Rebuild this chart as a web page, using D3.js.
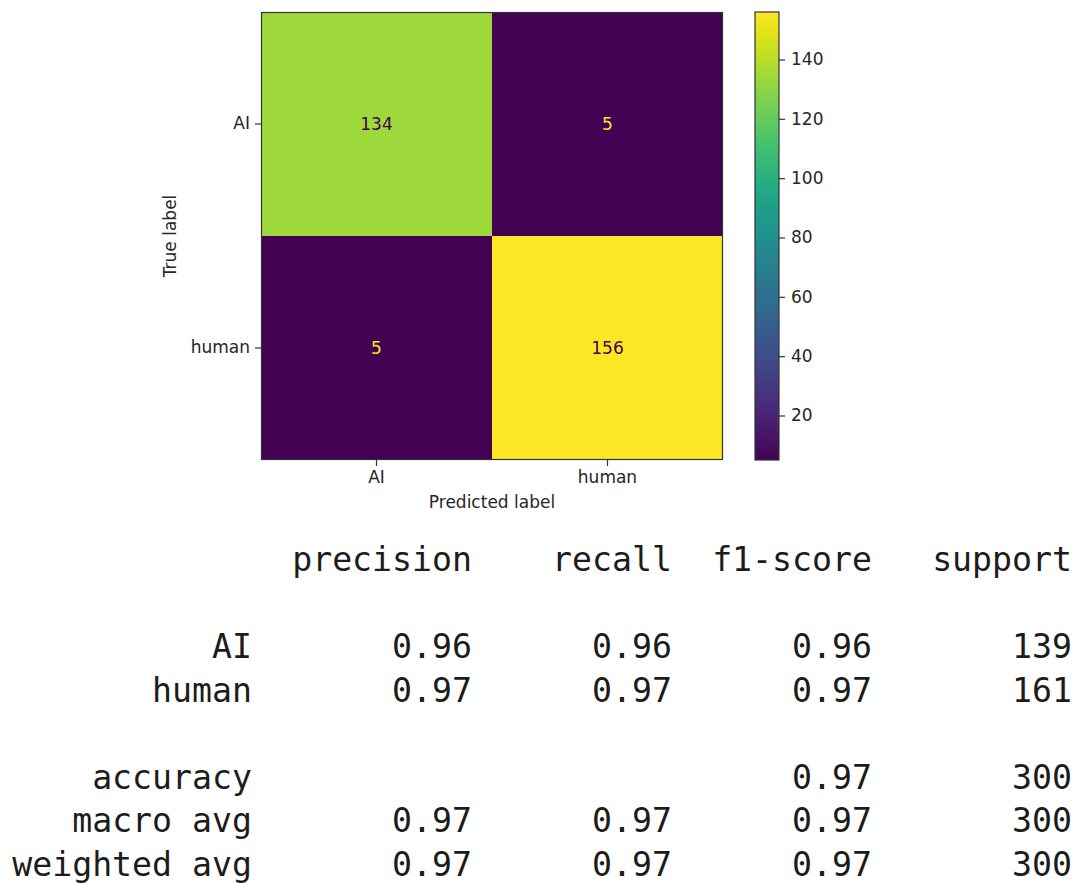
<!DOCTYPE html>
<html>
<head>
<meta charset="utf-8">
<script src="https://cdn.jsdelivr.net/npm/d3@7"></script>
<style>
  html, body { margin: 0; padding: 0; background: #ffffff; }
  svg { display: block; }
</style>
</head>
<body>
<svg id="chart" width="1080" height="883"></svg>
<script>
// Confusion matrix: rows = true label, columns = predicted label
const labels = ["AI", "human"];
const matrix = [
  [134, 5],
  [5, 156]
];
const colorbarTicks = [20, 40, 60, 80, 100, 120, 140];

// Classification report
const reportHeader = ["precision", "recall", "f1-score", "support"];
const classNames = ["AI", "human"];
const precision = [0.96, 0.97];
const recall = [0.96, 0.97];
const f1 = [0.96, 0.97];
const support = [139, 161];
const accuracy = 0.97;
const totalSupport = 300;
const macroAvg = [0.97, 0.97, 0.97];
const weightedAvg = [0.97, 0.97, 0.97];

const svg = d3.select("#chart");
const chartFont = "'DejaVu Sans', sans-serif";
const monoFont = "'DejaVu Sans Mono', monospace";
const inkColor = "#262626";
const chartFontSize = 17;

// ---- heatmap ----
const hm = { left: 261, right: 723, top: 12, bottom: 460 };
const x = d3.scaleBand().domain(labels).range([hm.left, hm.right]);
const y = d3.scaleBand().domain(labels).range([hm.top, hm.bottom]);
const flat = matrix.flatMap((row, i) => row.map((v, j) => ({ t: labels[i], p: labels[j], v })));
const vmin = d3.min(flat, d => d.v), vmax = d3.max(flat, d => d.v);
const color = d3.scaleSequential(d3.interpolateViridis).domain([vmin, vmax]);
const thresh = (vmin + vmax) / 2;

svg.append("g").selectAll("rect").data(flat).join("rect")
  .attr("x", d => x(d.p)).attr("y", d => y(d.t))
  .attr("width", x.bandwidth()).attr("height", y.bandwidth())
  .attr("fill", d => color(d.v));

svg.append("g").selectAll("text").data(flat).join("text")
  .attr("x", d => x(d.p) + x.bandwidth() / 2)
  .attr("y", d => y(d.t) + y.bandwidth() / 2)
  .attr("text-anchor", "middle").attr("dominant-baseline", "central")
  .attr("font-family", chartFont).attr("font-size", chartFontSize)
  .attr("fill", d => d.v < thresh ? color(vmax) : color(vmin))
  .text(d => d.v);

svg.append("rect")
  .attr("x", hm.left + 0.5).attr("y", hm.top + 0.5)
  .attr("width", hm.right - hm.left - 1).attr("height", hm.bottom - hm.top - 1)
  .attr("fill", "none").attr("stroke", "#333").attr("stroke-width", 1.2);

const xAxis = svg.append("g").attr("transform", `translate(0,${hm.bottom})`)
  .call(d3.axisBottom(x).tickSize(6).tickPadding(5));
const yAxis = svg.append("g").attr("transform", `translate(${hm.left},0)`)
  .call(d3.axisLeft(y).tickSize(6).tickPadding(5));
[xAxis, yAxis].forEach(a => {
  a.select(".domain").remove();
  a.selectAll("line").attr("stroke", "#333").attr("stroke-width", 1.2);
  a.selectAll("text").attr("font-family", chartFont).attr("font-size", chartFontSize).attr("fill", inkColor);
});

svg.append("text")
  .attr("x", (hm.left + hm.right) / 2).attr("y", 508)
  .attr("text-anchor", "middle")
  .attr("font-family", chartFont).attr("font-size", chartFontSize).attr("fill", inkColor)
  .text("Predicted label");

svg.append("text")
  .attr("transform", `translate(176,${(hm.top + hm.bottom) / 2}) rotate(-90)`)
  .attr("text-anchor", "middle")
  .attr("font-family", chartFont).attr("font-size", chartFontSize).attr("fill", inkColor)
  .text("True label");

// ---- colorbar ----
const cb = { left: 755, right: 779 };
const cbScale = d3.scaleLinear().domain([vmin, vmax]).range([hm.bottom, hm.top]);
const grad = svg.append("defs").append("linearGradient")
  .attr("id", "viridisGrad").attr("x1", 0).attr("y1", 1).attr("x2", 0).attr("y2", 0);
d3.range(0, 1.0001, 0.05).forEach(t => {
  grad.append("stop").attr("offset", t).attr("stop-color", d3.interpolateViridis(t));
});
svg.append("rect")
  .attr("x", cb.left).attr("y", hm.top)
  .attr("width", cb.right - cb.left).attr("height", hm.bottom - hm.top)
  .attr("fill", "url(#viridisGrad)")
  .attr("stroke", "#333").attr("stroke-width", 1.2);
const cbAxis = svg.append("g").attr("transform", `translate(${cb.right},0)`)
  .call(d3.axisRight(cbScale).tickValues(colorbarTicks).tickSize(6).tickPadding(6));
cbAxis.select(".domain").remove();
cbAxis.selectAll("line").attr("stroke", "#333").attr("stroke-width", 1.2);
cbAxis.selectAll("text").attr("font-family", chartFont).attr("font-size", chartFontSize).attr("fill", inkColor);

// ---- classification report (monospace, right-aligned columns) ----
const fmt = d3.format(".2f");
const colRight = [252, 472, 672, 872, 1072];
const rows = [
  { label: "", cells: reportHeader },
  null,
  ...classNames.map((c, i) => ({ label: c, cells: [fmt(precision[i]), fmt(recall[i]), fmt(f1[i]), String(support[i])] })),
  null,
  { label: "accuracy", cells: ["", "", fmt(accuracy), String(totalSupport)] },
  { label: "macro avg", cells: [...macroAvg.map(fmt), String(totalSupport)] },
  { label: "weighted avg", cells: [...weightedAvg.map(fmt), String(totalSupport)] }
];
const rowY = d3.scaleLinear().domain([0, 7]).range([571, 876]);
const report = svg.append("g")
  .attr("font-family", monoFont).attr("font-size", 33.2).attr("fill", "#1c1c1c");
rows.forEach((r, i) => {
  if (!r) return;
  [r.label, ...r.cells].forEach((txt, j) => {
    if (!txt) return;
    report.append("text")
      .attr("x", colRight[j]).attr("y", rowY(i))
      .attr("text-anchor", "end")
      .attr("xml:space", "preserve")
      .text(txt);
  });
});
</script>
</body>
</html>
